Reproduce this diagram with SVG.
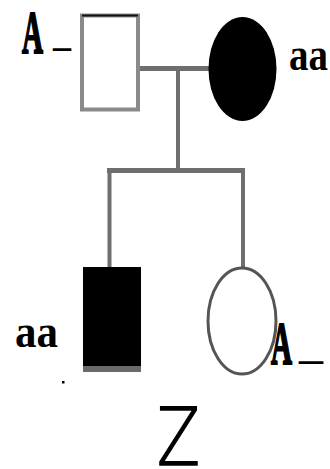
<svg xmlns="http://www.w3.org/2000/svg" width="330" height="469" viewBox="0 0 330 469">
  <style>
    .lbl { font-family: "Liberation Serif", "DejaVu Serif", serif; font-weight: bold; fill: #000; }
    .cap { stroke: #000; stroke-width: 2.2; stroke-linejoin: miter; }
    .line { stroke: #6e6e6e; fill: none; stroke-linecap: butt; }
  </style>
  <rect width="330" height="469" fill="#fff"/>

  <g id="connectors">
    <!-- marriage line -->
    <line class="line" x1="137" y1="68.5" x2="210" y2="68.5" stroke-width="5"/>
    <!-- descent line -->
    <line class="line" x1="178" y1="68.5" x2="178" y2="171" stroke-width="4"/>
    <!-- sibship line -->
    <line class="line" x1="107" y1="170.5" x2="245" y2="170.5" stroke-width="5" stroke="#4a4a4a"/>
    <!-- drops to children -->
    <line class="line" x1="109.5" y1="170" x2="109.5" y2="268" stroke-width="4" stroke="#7a7a7a"/>
    <line class="line" x1="243" y1="170" x2="243" y2="268" stroke-width="4" stroke="#6a6a6a"/>
  </g>

  <g id="father">
    <rect x="82" y="15.5" width="56" height="94" fill="#fff" stroke="#8a8a8a" stroke-width="4"/>
    <line x1="82" y1="15.5" x2="138" y2="15.5" stroke="#111" stroke-width="2"/>
    <text class="lbl cap" x="22" y="53" font-size="62" textLength="21" lengthAdjust="spacingAndGlyphs">A</text>
    <text class="lbl" x="53" y="45" font-size="40" textLength="18" lengthAdjust="spacingAndGlyphs">_</text>
  </g>

  <g id="mother">
    <ellipse cx="242.5" cy="69" rx="34" ry="52" fill="#000"/>
    <text class="lbl" x="289" y="70" font-size="46" textLength="39" lengthAdjust="spacingAndGlyphs">aa</text>
  </g>

  <g id="son">
    <rect x="83" y="267" width="58" height="105" fill="#000"/>
    <rect x="83" y="366" width="58" height="6" fill="#6a6a6a"/>
    <text class="lbl" x="15" y="347" font-size="46" textLength="43" lengthAdjust="spacingAndGlyphs">aa</text>
    <rect x="62" y="381" width="2.5" height="2.5" fill="#000"/>
  </g>

  <g id="daughter">
    <ellipse cx="242" cy="321" rx="34" ry="53" fill="#fff" stroke="#555" stroke-width="3"/>
    <text class="lbl cap" x="271" y="364" font-size="62" textLength="21" lengthAdjust="spacingAndGlyphs">A</text>
    <text class="lbl" x="299" y="358" font-size="40" textLength="24" lengthAdjust="spacingAndGlyphs">_</text>
  </g>

  <g id="caption">
    <text x="157" y="465" font-family="'DejaVu Sans', 'Liberation Sans', sans-serif" font-weight="200" font-size="80" textLength="43" lengthAdjust="spacingAndGlyphs" fill="#000" stroke="#000" stroke-width="1.5">Z</text>
  </g>
</svg>
